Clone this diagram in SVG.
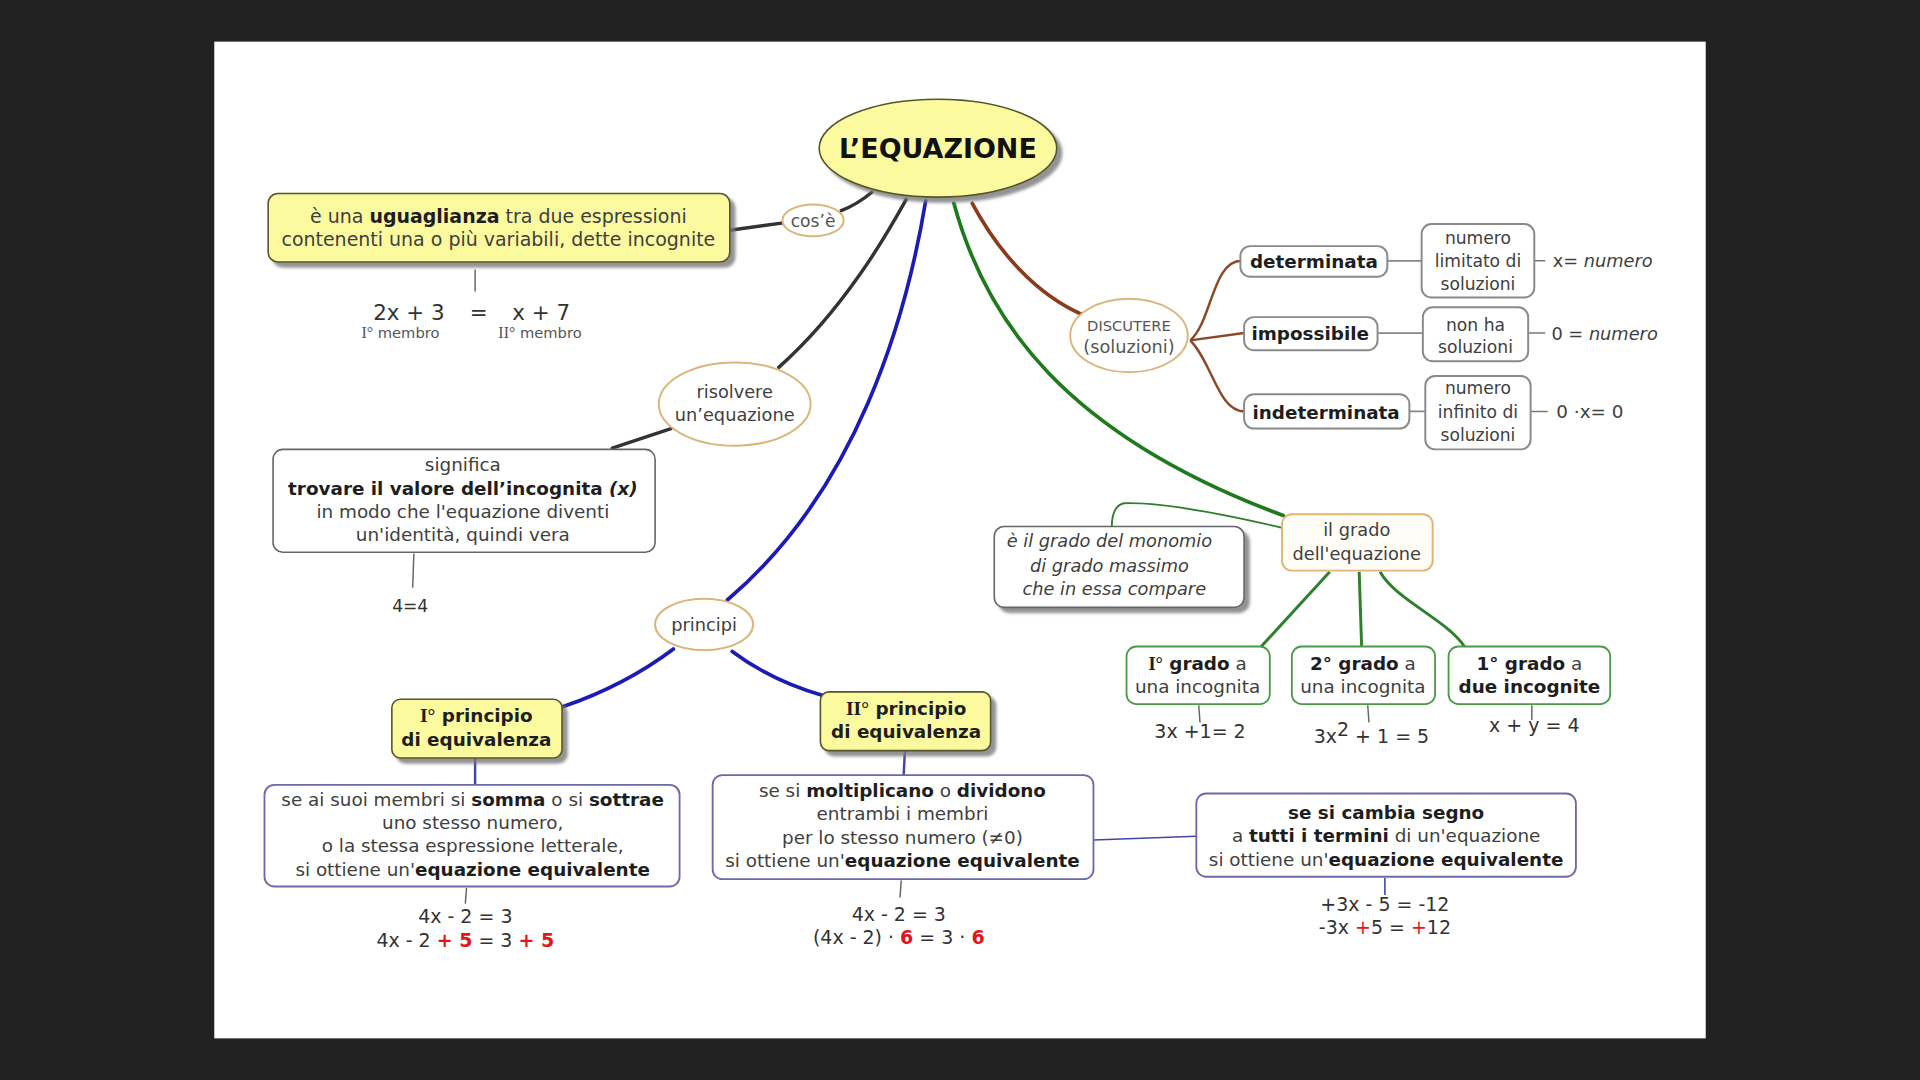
<svg xmlns="http://www.w3.org/2000/svg" width="1920" height="1080" viewBox="0 0 1920 1080">
<defs>
<filter id="sh" x="-10%" y="-10%" width="130%" height="150%"><feDropShadow dx="4" dy="4" stdDeviation="1.5" flood-color="#777" flood-opacity="0.8"/></filter>
</defs>
<style>
text{font-family:"DejaVu Sans",Verdana,sans-serif;fill:#404040;font-size:15px;text-anchor:middle}
.l{text-anchor:start}
.b{font-weight:bold;fill:#1e1e1e}
.i{font-style:italic}
.ser{font-family:"Liberation Serif","Times New Roman",serif}
.red{fill:#e0161b;font-weight:bold}
.sm{font-size:12px;fill:#555}
.eq{font-size:15.5px;fill:#333}
.yel{fill:#fbfa9e;stroke:#55552a;stroke-width:1.3}
.ov{fill:#fff;stroke:#dab67a;stroke-width:1.6}
.box{fill:#fff;stroke:#666;stroke-width:1.3}
.bbox{fill:#fff;stroke:#6a6aaa;stroke-width:1.5}
.gbox{fill:#fff;stroke:#4a9a4a;stroke-width:1.5}
.nbox{fill:#fff;stroke:#8a8a8a;stroke-width:1.6}
.k{fill:none;stroke:#333;stroke-width:2.8;stroke-linecap:round}
.bl{fill:none;stroke:#1c1cb4;stroke-width:3;stroke-linecap:round}
.blt{fill:none;stroke:#4444a8;stroke-width:2}
.gr{fill:none;stroke:#1d7a1d;stroke-width:3;stroke-linecap:round}
.grt{fill:none;stroke:#2e7f2e;stroke-width:2.4}
.br{fill:none;stroke:#8a3c1a;stroke-width:3;stroke-linecap:round}
.brt{fill:none;stroke:#8a4a2a;stroke-width:2}
.th{fill:none;stroke:#666;stroke-width:1.2}
</style>
<rect x="0" y="0" width="1920" height="1080" fill="#222"/>
<g transform="scale(1.22449)">
<rect x="175" y="34" width="1218" height="814" fill="#fff"/>

<g id="connectors">
<path class="k" d="M712,157 Q700,167 687,172"/>
<path class="k" d="M596,188 L640,182"/>
<path class="th" d="M388,220 L388,238"/>
<path class="k" d="M740,163 C725,190 690,252 636,300"/>
<path class="k" d="M548,350 L500,366"/>
<path class="th" d="M338,452 L337,480"/>
<path class="bl" d="M756,164 C740,260 700,400 594,490"/>
<path class="bl" d="M550,530 Q510,560 460,577"/>
<path class="bl" d="M598,532 Q630,556 672,568"/>
<path class="blt" d="M388,619 L388,641"/>
<path class="blt" d="M739,613 L738,633"/>
<path class="th" d="M381,725 L380,738"/>
<path class="th" d="M736,719 L735,733"/>
<path class="blt" style="stroke-width:1.3" d="M893,686 L977,683"/>
<path class="blt" style="stroke-width:1.3" d="M1131,717 L1131,731"/>
<path class="gr" d="M779,166 C805,262 870,355 1048,421"/>
<path class="grt" style="stroke-width:1.5" d="M1047,431 C1000,420 950,410 918,411 Q908,413 908,430"/>
<path class="grt" d="M1086,467 L1030,528"/>
<path class="grt" d="M1110,467 L1112,528"/>
<path class="grt" d="M1127,467 C1140,490 1180,505 1196,528"/>
<path class="th" d="M979,576 L980,590"/>
<path class="th" d="M1117,576 L1118,590"/>
<path class="th" d="M1251,576 L1251,588"/>
<path class="br" d="M794,166 C815,205 845,240 884,257"/>
<path class="brt" d="M972,278 C990,262 990,213 1014,213"/>
<path class="brt" d="M972,278 L1016,272"/>
<path class="brt" d="M972,278 C990,296 995,336 1016,336"/>
<path class="th" style="stroke:#888;stroke-width:1.5" d="M1133,213 L1161,213 M1125,272 L1162,272 M1151,336 L1164,336"/>
<path class="th" style="stroke:#777" d="M1253,213 L1262,213 M1248,272 L1262,272 M1250,336 L1264,336"/>
</g>

<g id="n-equazione">
<ellipse class="yel" cx="766" cy="121" rx="97" ry="40" filter="url(#sh)"/>
<text class="b" x="766" y="129" style="font-size:22px;fill:#111">L’EQUAZIONE</text>
</g>

<g id="n-cose">
<ellipse class="ov" cx="664" cy="180" rx="25" ry="13"/>
<text x="664" y="185" style="font-size:14px;fill:#555">cos’è</text>
</g>

<g id="n-uguaglianza">
<rect class="yel" x="219" y="158" width="377" height="56" rx="8" filter="url(#sh)"/>
<text x="407" y="182" style="font-size:15.5px">è una <tspan class="b">uguaglianza</tspan> tra due espressioni</text>
<text x="407" y="201" style="font-size:15.5px">contenenti una o più variabili, dette incognite</text>
</g>

<g id="n-esempio">
<text class="eq" x="334" y="261" style="font-size:17.5px">2x + 3</text>
<text class="eq" x="391" y="261" style="font-size:17.5px">=</text>
<text class="eq" x="442" y="261" style="font-size:17.5px">x + 7</text>
<text class="sm" x="327" y="276"><tspan class="ser" style="font-size:13px">I°</tspan> membro</text>
<text class="sm" x="441" y="276"><tspan class="ser" style="font-size:13px">II°</tspan> membro</text>
</g>

<g id="n-risolvere">
<ellipse class="ov" cx="600" cy="330" rx="62" ry="34"/>
<text x="600" y="325" style="font-size:14.5px">risolvere</text>
<text x="600" y="344" style="font-size:14.5px">un’equazione</text>
</g>

<g id="n-significa">
<rect class="box" x="223" y="367" width="312" height="84" rx="8"/>
<text x="378" y="385">significa</text>
<text class="b" x="378" y="404">trovare il valore dell’incognita <tspan class="i">(x)</tspan></text>
<text x="378" y="423">in modo che l'equazione diventi</text>
<text x="378" y="442">un'identità, quindi vera</text>
<text class="eq" x="335" y="500" style="font-size:14px">4=4</text>
</g>

<g id="n-principi">
<ellipse class="ov" cx="575" cy="510" rx="40" ry="21"/>
<text x="575" y="515" style="font-size:14.5px">principi</text>
</g>

<g id="n-principio1">
<rect class="yel" x="320" y="571" width="139" height="48" rx="7" filter="url(#sh)"/>
<text class="b" x="389" y="590"><tspan class="ser" style="font-size:16px">I°</tspan> principio</text>
<text class="b" x="389" y="609">di equivalenza</text>
</g>

<g id="n-principio2">
<rect class="yel" x="670" y="565" width="139" height="48" rx="7" filter="url(#sh)"/>
<text class="b" x="740" y="584"><tspan class="ser" style="font-size:16px">II°</tspan> principio</text>
<text class="b" x="740" y="603">di equivalenza</text>
</g>

<g id="n-regola1">
<rect class="bbox" x="216" y="641" width="339" height="83" rx="8"/>
<text x="386" y="658">se ai suoi membri si <tspan class="b">somma</tspan> o si <tspan class="b">sottrae</tspan></text>
<text x="386" y="677">uno stesso numero,</text>
<text x="386" y="696">o la stessa espressione letterale,</text>
<text x="386" y="715">si ottiene un'<tspan class="b">equazione equivalente</tspan></text>
<text class="eq" x="380" y="754">4x - 2 = 3</text>
<text class="eq" x="380" y="773">4x - 2 <tspan class="red">+ 5</tspan> = 3 <tspan class="red">+ 5</tspan></text>
</g>

<g id="n-regola2">
<rect class="bbox" x="582" y="633" width="311" height="85" rx="8"/>
<text x="737" y="651">se si <tspan class="b">moltiplicano</tspan> o <tspan class="b">dividono</tspan></text>
<text x="737" y="670">entrambi i membri</text>
<text x="737" y="689">per lo stesso numero (≠0)</text>
<text x="737" y="708">si ottiene un'<tspan class="b">equazione equivalente</tspan></text>
<text class="eq" x="734" y="752">4x - 2 = 3</text>
<text class="eq" x="734" y="771">(4x - 2) · <tspan class="red">6</tspan> = 3 · <tspan class="red">6</tspan></text>
</g>

<g id="n-regola3">
<rect class="bbox" x="977" y="648" width="310" height="68" rx="8"/>
<text class="b" x="1132" y="669">se si cambia segno</text>
<text x="1132" y="688">a <tspan class="b">tutti i termini</tspan> di un'equazione</text>
<text x="1132" y="707">si ottiene un'<tspan class="b">equazione equivalente</tspan></text>
<text class="eq" x="1131" y="744">+3x - 5 = -12</text>
<text class="eq" x="1131" y="763">-3x <tspan style="fill:#e0161b">+</tspan>5 = <tspan style="fill:#e0161b">+</tspan>12</text>
</g>

<g id="n-grado">
<rect x="1047" y="420" width="123" height="46" rx="8" fill="#fffdf6" stroke="#e2b574" stroke-width="1.6"/>
<text x="1108" y="438" style="font-size:14.5px">il grado</text>
<text x="1108" y="457" style="font-size:14.5px">dell'equazione</text>
</g>

<g id="n-monomio">
<rect class="box" x="812" y="430" width="204" height="66" rx="8" filter="url(#sh)"/>
<text class="i" x="906" y="447" style="font-size:14.5px">è il grado del monomio</text>
<text class="i" x="906" y="467" style="font-size:14.5px">di grado massimo</text>
<text class="i" x="910" y="486" style="font-size:14.5px">che in essa compare</text>
</g>

<g id="n-g1">
<rect class="gbox" x="920" y="528" width="117" height="47" rx="8"/>
<text x="978" y="547"><tspan class="b"><tspan class="ser">I°</tspan> grado</tspan> a</text>
<text x="978" y="566">una incognita</text>
<text class="eq" x="980" y="603">3x +1= 2</text>
</g>

<g id="n-g2">
<rect class="gbox" x="1055" y="528" width="117" height="47" rx="8"/>
<text x="1113" y="547"><tspan class="b">2° grado</tspan> a</text>
<text x="1113" y="566">una incognita</text>
<text class="eq" x="1120" y="607">3x<tspan dy="-6">2</tspan><tspan dy="6"> + 1 = 5</tspan></text>
</g>

<g id="n-g3">
<rect class="gbox" x="1183" y="528" width="132" height="47" rx="8"/>
<text x="1249" y="547"><tspan class="b">1° grado</tspan> a</text>
<text class="b" x="1249" y="566">due incognite</text>
<text class="eq" x="1253" y="598">x + y = 4</text>
</g>

<g id="n-discutere">
<ellipse class="ov" cx="922" cy="274" rx="48" ry="30"/>
<text x="922" y="270" style="font-size:12px;fill:#555">DISCUTERE</text>
<text x="922" y="288" style="font-size:14.5px;fill:#555">(soluzioni)</text>
</g>

<g id="n-determinata">
<rect class="nbox" x="1013" y="201" width="120" height="25" rx="8"/>
<text class="b" x="1073" y="219">determinata</text>
</g>
<g id="n-impossibile">
<rect class="nbox" x="1016" y="259" width="109" height="27" rx="8"/>
<text class="b" x="1070" y="278">impossibile</text>
</g>
<g id="n-indeterminata">
<rect class="nbox" x="1016" y="322" width="135" height="28" rx="8"/>
<text class="b" x="1083" y="342">indeterminata</text>
</g>

<g id="n-limitato">
<rect class="nbox" x="1161" y="183" width="92" height="60" rx="8"/>
<text x="1207" y="199" style="font-size:14px">numero</text>
<text x="1207" y="218" style="font-size:14px">limitato di</text>
<text x="1207" y="237" style="font-size:14px">soluzioni</text>
<text class="l" x="1268" y="218" style="font-size:14.5px">x= <tspan class="i">numero</tspan></text>
</g>
<g id="n-nonha">
<rect class="nbox" x="1162" y="251" width="86" height="44" rx="8"/>
<text x="1205" y="270" style="font-size:14px">non ha</text>
<text x="1205" y="288" style="font-size:14px">soluzioni</text>
<text class="l" x="1267" y="278" style="font-size:14.5px">0 = <tspan class="i">numero</tspan></text>
</g>
<g id="n-infinito">
<rect class="nbox" x="1164" y="307" width="86" height="60" rx="8"/>
<text x="1207" y="322" style="font-size:14px">numero</text>
<text x="1207" y="341" style="font-size:14px">infinito di</text>
<text x="1207" y="360" style="font-size:14px">soluzioni</text>
<text class="l" x="1271" y="341" style="font-size:15px">0 ·x= 0</text>
</g>
</g>
</svg>
